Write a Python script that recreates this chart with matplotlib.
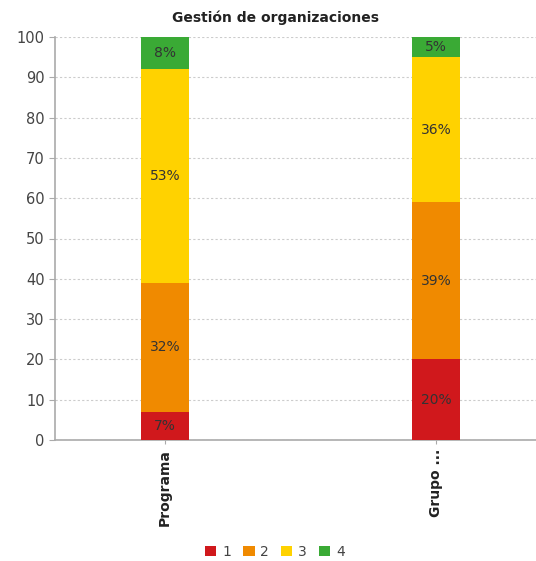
import matplotlib
matplotlib.use("Agg")
import matplotlib.pyplot as plt
import numpy as np

categories = ["Programa", "Grupo ..."]
series_names = ["1", "2", "3", "4"]
values = {
    "1": [7, 20],
    "2": [32, 39],
    "3": [53, 36],
    "4": [8, 5],
}
colors = ["#D0181C", "#F08A00", "#FFD200", "#3AAA35"]
title = "Gestión de organizaciones"

W, H = 536, 561
fig = plt.figure(figsize=(W / 100, H / 100), dpi=100)
ax = fig.add_axes([55 / W, 1 - 440 / H, (536 - 55) / W, (440 - 37) / H])

x = np.arange(len(categories))
bottom = np.zeros(len(categories))
for name, col in zip(series_names, colors):
    vals = np.array(values[name], dtype=float)
    bars = ax.bar(x, vals, 0.18, bottom=bottom, color=col, label=name, zorder=3)
    for xi, b, v in zip(x, bottom, vals):
        ax.text(xi, b + v / 2, f"{int(v)}%", ha="center", va="center",
                fontsize=10, color="#333333", zorder=4)
    bottom += vals

ax.set_xlim(-0.406, 1.369)
ax.set_ylim(0, 100)
ax.set_yticks(range(0, 101, 10))
ax.tick_params(axis="y", labelsize=10.5, colors="#444444", length=4, color="#AAAAAA")
ax.tick_params(axis="x", length=3, color="#AAAAAA")
ax.set_xticks(x)
ax.set_xticklabels(categories, rotation=90, fontsize=10, fontweight="bold", color="#222222")
ax.grid(axis="y", linestyle=(0, (2, 2)), color="#CCCCCC", linewidth=0.8, zorder=0)
for s in ["top", "right"]:
    ax.spines[s].set_visible(False)
for s in ["left", "bottom"]:
    ax.spines[s].set_color("#AAAAAA")
    ax.spines[s].set_linewidth(1.2)

fig.text(275 / W, 1 - 18 / H, title, ha="center", va="center", fontsize=10, fontweight="bold", color="#222222")

handles, labels = ax.get_legend_handles_labels()
fig.legend(handles, labels, loc="center", bbox_to_anchor=(275 / W, 1 - 552 / H), ncol=4,
           frameon=False, fontsize=10, handlelength=0.8, handleheight=0.8,
           handletextpad=0.4, columnspacing=0.9, labelcolor="#444444")

fig.savefig("out.png", dpi=100)
